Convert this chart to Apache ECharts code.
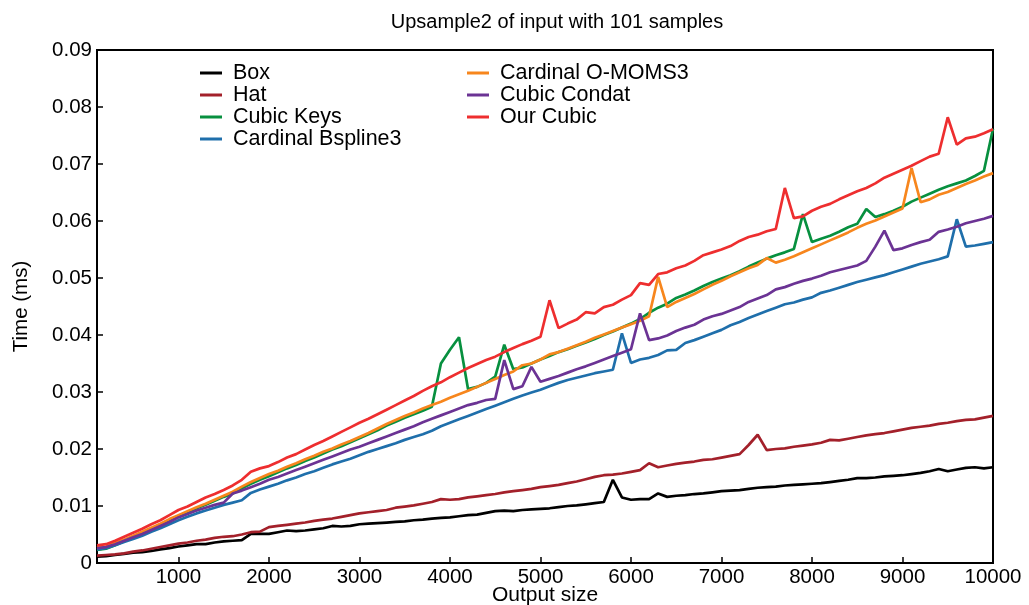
<!DOCTYPE html>
<html>
<head>
<meta charset="utf-8">
<script src="https://cdn.jsdelivr.net/npm/echarts@6/dist/echarts.min.js"></script>
<style>
html,body{margin:0;padding:0;background:#fff;}
#chart{width:1029px;height:605px;}
</style>
</head>
<body>
<div id="chart"></div>
<script>
const titleText = 'Upsample2 of input with 101 samples';
const xName = 'Output size';
const yName = 'Time (ms)';
const seriesNames = ['Box','Hat','Cubic Keys','Cardinal Bspline3','Cardinal O-MOMS3','Cubic Condat','Our Cubic'];
const seriesColors = ['#000000','#a3202a','#07903f','#1f6fab','#f7861d','#6b3394','#ee2e2f'];
const xTickLabels = [1000,2000,3000,4000,5000,6000,7000,8000,9000,10000];
const outputSizes = [
100,200,300,400,500,600,700,800,900,1000,
1100,1200,1300,1400,1500,1600,1700,1800,1900,2000,
2100,2200,2300,2400,2500,2600,2700,2800,2900,3000,
3100,3200,3300,3400,3500,3600,3700,3800,3900,4000,
4100,4200,4300,4400,4500,4600,4700,4800,4900,5000,
5100,5200,5300,5400,5500,5600,5700,5800,5900,6000,
6100,6200,6300,6400,6500,6600,6700,6800,6900,7000,
7100,7200,7300,7400,7500,7600,7700,7800,7900,8000,
8100,8200,8300,8400,8500,8600,8700,8800,8900,9000,
9100,9200,9300,9400,9500,9600,9700,9800,9900,10000];

const box = [
.0011,.0012,.0014,.0016,.0018,.0019,.0021,.0024,.0026,.0029,
.0031,.0033,.0033,.0036,.0038,.0039,.0040,.0051,.0051,.0051,
.0054,.0057,.0056,.0057,.0059,.0061,.0065,.0064,.0065,.0068,
.0069,.0070,.0071,.0072,.0073,.0075,.0076,.0078,.0079,.0080,
.0082,.0084,.0085,.0088,.0091,.0092,.0091,.0093,.0094,.0095,
.0096,.0098,.0100,.0101,.0103,.0105,.0107,.0146,.0115,.0111,
.0112,.0112,.0122,.0116,.0118,.0119,.0121,.0122,.0124,.0126,
.0127,.0128,.0130,.0132,.0133,.0134,.0136,.0137,.0138,.0139,
.0140,.0142,.0144,.0146,.0149,.0149,.0150,.0152,.0153,.0154,
.0156,.0158,.0161,.0165,.0161,.0164,.0167,.0168,.0166,.0168];

const hat = [
.0013,.0014,.0015,.0017,.0020,.0022,.0025,.0028,.0031,.0034,
.0036,.0039,.0041,.0044,.0046,.0047,.0050,.0054,.0055,.0063,
.0065,.0067,.0069,.0071,.0074,.0076,.0078,.0081,.0084,.0087,
.0089,.0091,.0093,.0097,.0099,.0101,.0104,.0107,.0112,.0111,
.0112,.0115,.0117,.0119,.0121,.0124,.0126,.0128,.0130,.0133,
.0135,.0137,.0140,.0143,.0147,.0151,.0154,.0155,.0157,.0160,
.0163,.0175,.0168,.0171,.0174,.0176,.0178,.0181,.0182,.0185,
.0188,.0191,.0207,.0225,.0198,.0200,.0201,.0204,.0206,.0208,
.0211,.0216,.0215,.0218,.0221,.0224,.0226,.0228,.0231,.0234,
.0237,.0239,.0241,.0244,.0246,.0249,.0251,.0252,.0255,.0258];

const cubicKeys = [
.0023,.0025,.0031,.0038,.0045,.0052,.0059,.0066,.0074,.0082,
.0089,.0096,.0102,.0109,.0116,.0122,.0131,.0139,.0146,.0152,
.0159,.0166,.0172,.0179,.0185,.0192,.0199,.0205,.0212,.0219,
.0226,.0233,.0241,.0248,.0255,.0261,.0267,.0274,.0350,.0374,
.0396,.0305,.0309,.0316,.0327,.0383,.0340,.0343,.0350,.0357,
.0363,.0370,.0375,.0381,.0387,.0393,.0400,.0406,.0413,.0420,
.0428,.0439,.0448,.0455,.0465,.0471,.0478,.0486,.0493,.0499,
.0505,.0512,.0520,.0527,.0534,.0540,.0545,.0551,.0612,.0563,
.0569,.0574,.0581,.0589,.0595,.0621,.0607,.0612,.0618,.0625,
.0634,.0641,.0648,.0655,.0661,.0666,.0671,.0679,.0688,.0762];

const bspline3 = [
.0024,.0026,.0031,.0037,.0042,.0048,.0055,.0061,.0068,.0075,
.0081,.0087,.0092,.0097,.0102,.0106,.0110,.0123,.0129,.0134,
.0139,.0145,.0150,.0156,.0161,.0167,.0173,.0178,.0183,.0189,
.0195,.0200,.0205,.0210,.0216,.0221,.0226,.0232,.0240,.0246,
.0252,.0258,.0264,.0270,.0276,.0282,.0288,.0294,.0299,.0304,
.0310,.0316,.0321,.0325,.0329,.0333,.0336,.0339,.0403,.0351,
.0357,.0360,.0365,.0373,.0374,.0386,.0391,.0397,.0403,.0409,
.0417,.0423,.0430,.0436,.0442,.0448,.0454,.0457,.0462,.0466,
.0474,.0478,.0483,.0488,.0493,.0497,.0501,.0505,.0510,.0515,
.0520,.0525,.0529,.0533,.0538,.0603,.0555,.0557,.0560,.0563];

const omoms3 = [
.0027,.0029,.0035,.0041,.0048,.0055,.0062,.0069,.0077,.0084,
.0091,.0098,.0104,.0111,.0118,.0125,.0134,.0142,.0149,.0156,
.0162,.0169,.0175,.0182,.0188,.0195,.0201,.0208,.0214,.0221,
.0228,.0236,.0244,.0251,.0258,.0264,.0271,.0277,.0283,.0290,
.0296,.0302,.0309,.0316,.0323,.0330,.0336,.0347,.0350,.0357,
.0366,.0370,.0376,.0382,.0388,.0395,.0401,.0407,.0413,.0419,
.0425,.0433,.0502,.0449,.0458,.0465,.0472,.0480,.0488,.0495,
.0503,.0510,.0517,.0523,.0535,.0527,.0532,.0538,.0545,.0552,
.0559,.0566,.0573,.0580,.0588,.0595,.0601,.0608,.0615,.0622,
.0693,.0633,.0638,.0646,.0651,.0658,.0665,.0671,.0678,.0684];

const condat = [
.0026,.0028,.0033,.0039,.0045,.0051,.0058,.0065,.0072,.0080,
.0086,.0092,.0097,.0102,.0106,.0122,.0127,.0133,.0139,.0146,
.0151,.0157,.0163,.0169,.0175,.0181,.0187,.0193,.0199,.0204,
.0210,.0216,.0222,.0228,.0234,.0240,.0247,.0253,.0259,.0265,
.0271,.0277,.0281,.0286,.0288,.0356,.0305,.0310,.0344,.0318,
.0323,.0328,.0334,.0340,.0345,.0351,.0357,.0363,.0369,.0375,
.0438,.0391,.0394,.0399,.0407,.0413,.0418,.0427,.0433,.0437,
.0443,.0449,.0458,.0464,.0470,.0480,.0484,.0490,.0495,.0499,
.0504,.0510,.0514,.0518,.0522,.0530,.0555,.0583,.0549,.0552,
.0558,.0563,.0567,.0581,.0585,.0590,.0596,.0600,.0604,.0609];

const ourCubic = [
.0031,.0033,.0039,.0046,.0053,.0060,.0068,.0075,.0084,.0093,
.0099,.0107,.0115,.0121,.0128,.0136,.0146,.0160,.0166,.0170,
.0177,.0185,.0191,.0199,.0207,.0214,.0222,.0230,.0238,.0246,
.0253,.0261,.0269,.0277,.0285,.0293,.0302,.0310,.0317,.0326,
.0334,.0342,.0349,.0356,.0362,.0370,.0377,.0384,.0390,.0397,
.0461,.0412,.0420,.0427,.0440,.0438,.0449,.0453,.0462,.0470,
.0491,.0488,.0507,.0510,.0517,.0522,.0530,.0540,.0545,.0550,
.0556,.0565,.0572,.0576,.0582,.0586,.0658,.0605,.0608,.0618,
.0625,.0630,.0638,.0645,.0652,.0658,.0666,.0676,.0683,.0690,
.0697,.0705,.0713,.0718,.0782,.0734,.0745,.0748,.0754,.0761];

const allValues = [box, hat, cubicKeys, bspline3, omoms3, condat, ourCubic];

const FONT = 'Liberation Sans';
const chart = echarts.init(document.getElementById('chart'), null, {renderer:'canvas'});

const legendCommon = {
  orient: 'vertical',
  top: 62,
  padding: 0,
  itemWidth: 22,
  itemHeight: 3,
  itemGap: 0,
  icon: 'rect',
  textStyle: {fontFamily: FONT, fontSize: 21.5, color: '#000', lineHeight: 20, padding: [0,0,0,6]},
  selectedMode: false
};

chart.setOption({
  animation: false,
  backgroundColor: '#fff',
  title: {
    text: titleText,
    left: 552,
    textAlign: 'center',
    top: 7,
    textStyle: {fontFamily: FONT, fontSize: 20, fontWeight: 'normal', color: '#000'}
  },
  legend: [
    Object.assign({}, legendCommon, {left: 200, data: seriesNames.slice(0,4)}),
    Object.assign({}, legendCommon, {left: 467, data: seriesNames.slice(4)})
  ],
  grid: {left: 97, right: 36, top: 50, bottom: 42, show: true, borderColor: '#000', borderWidth: 2,
         containLabel: false, outerBoundsMode: 'none'},
  xAxis: {
    type: 'value',
    min: 100,
    max: 10000,
    name: xName,
    nameLocation: 'middle',
    nameGap: 22,
    nameMoveOverlap: false,
    nameTextStyle: {fontFamily: FONT, fontSize: 21, color: '#000', verticalAlign: 'top'},
    axisLine: {show: true, lineStyle: {color: '#000', width: 2}},
    axisTick: {show: true, inside: true, length: 6, customValues: xTickLabels, lineStyle: {color: '#000', width: 1.5}},
    axisLabel: {customValues: xTickLabels, fontFamily: FONT, fontSize: 20.5, color: '#000', margin: 4,
      formatter: v => String(v)},
    splitLine: {show: false}
  },
  yAxis: {
    type: 'value',
    min: 0,
    max: 0.09,
    interval: 0.01,
    name: yName,
    nameLocation: 'middle',
    nameGap: 65,
    nameMoveOverlap: false,
    nameTextStyle: {fontFamily: FONT, fontSize: 20.5, color: '#000'},
    axisLine: {show: true, lineStyle: {color: '#000', width: 2}},
    axisTick: {show: true, inside: true, length: 6, lineStyle: {color: '#000', width: 1.5}},
    axisLabel: {fontFamily: FONT, fontSize: 20.5, color: '#000', margin: 5,
      formatter: v => (Math.abs(v) < 1e-9 ? '0' : v.toFixed(2))},
    splitLine: {show: false}
  },
  series: seriesNames.map((name, i) => ({
    name: name,
    type: 'line',
    showSymbol: false,
    symbol: 'none',
    color: seriesColors[i],
    lineStyle: {width: 2.7, color: seriesColors[i]},
    data: outputSizes.map((x, j) => [x, allValues[i][j]]),
    z: 2 + i
  }))
});
</script>
</body>
</html>
